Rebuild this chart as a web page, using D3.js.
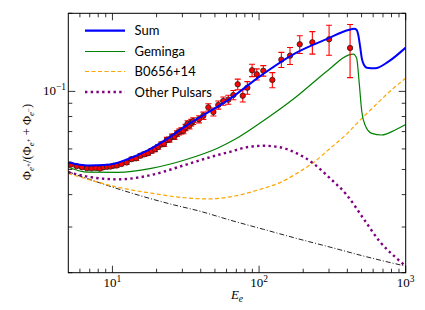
<!DOCTYPE html>
<html><head><meta charset="utf-8">
<script src="https://cdn.jsdelivr.net/npm/d3@7"></script>
<style>body{margin:0;background:#fff}svg{display:block}</style>
</head><body>
<svg id="c" width="425" height="310"></svg>
<script>
// ---- data ----
const sumCurve = [[5,0.0533],[6.8,0.0518],[9.3,0.0521],[12.8,0.0549],[17.5,0.0594],[23.9,0.0659],[32.7,0.0745],[43.7,0.0822],[61.7,0.0927],[104,0.1156],[176,0.1402],[297,0.1601],[406,0.1725],[446,0.1742],[463,0.1725],[475,0.165],[489,0.1486],[502,0.1341],[520,0.1264],[543,0.1234],[618,0.1227],[762,0.1302],[1000,0.1475]];
const gemingaCurve = [[5,0.051],[6.8,0.0488],[10.9,0.0487],[18.4,0.0505],[31.1,0.0544],[52.5,0.0605],[70,0.0658],[104,0.0762],[176,0.0945],[297,0.1209],[406,0.138],[440,0.1393],[463,0.1341],[481,0.109],[502,0.0835],[528,0.0742],[587,0.0689],[687,0.0679],[847,0.071],[1000,0.0745]];
const b0656Curve = [[5,0.0483],[6.8,0.0458],[10.9,0.0427],[18.4,0.0405],[31.1,0.0389],[44.9,0.0385],[68.2,0.0395],[107,0.0423],[139,0.0445],[181,0.0483],[234,0.0531],[305,0.0603],[396,0.0685],[500,0.0785],[600,0.0868],[800,0.1013],[1000,0.1124]];
const otherCurve = [[5,0.0488],[6.8,0.0469],[10.9,0.0458],[18.4,0.0476],[31.1,0.052],[52.5,0.0569],[63.4,0.0585],[82.4,0.0609],[107,0.0617],[139,0.0609],[181,0.0577],[234,0.0528],[305,0.0462],[396,0.0399],[514,0.0324],[668,0.0263],[869,0.0227],[1000,0.0212]];
const backgroundCurve = [[5,0.049],[8.4,0.0442],[14.2,0.0402],[23.9,0.037],[40.4,0.0344],[63.4,0.0319],[107,0.0294],[181,0.0271],[305,0.0251],[514,0.0232],[964,0.0213],[1000,0.0212]];

const dataE = [5.2,5.7,6.2,6.7,7.2,7.7,8.2,8.7,9.2,9.7,10.2,10.7,11.5,12.5,13.5,14.5,15.5,16.5,17.5,18.5,19.5,20.5,21.5,22.5,23.5,24.5,25.5,26.5,27.5,28.5,29.5,30.5,31.5,32.5,33.5,34.5,35.5,38.9,41.7,45.1,48.8,52.7,57.0,61.7,66.8,71.5,77.4,83.2,89.6,96.4,106.9,123.2,141.9,162.6,189.4,230.9,300.2,417.5];
const dataV = [0.0522,0.0515,0.0510,0.0506,0.0505,0.0507,0.0504,0.0510,0.0512,0.0513,0.0517,0.0518,0.0525,0.0532,0.0548,0.0552,0.0565,0.0572,0.0578,0.0590,0.0598,0.0611,0.0625,0.0628,0.0650,0.0652,0.0668,0.0670,0.0688,0.0698,0.0705,0.0706,0.0726,0.0750,0.0738,0.0758,0.0768,0.0781,0.0806,0.0868,0.0833,0.0886,0.0918,0.0929,0.0968,0.1065,0.0962,0.1033,0.1206,0.1164,0.1201,0.1107,0.1325,0.1373,0.1519,0.1546,0.1588,0.1470];
const dataErr = [0.0006,0.0006,0.0006,0.0006,0.0006,0.0006,0.0007,0.0007,0.0007,0.0007,0.0008,0.0008,0.0008,0.0009,0.0009,0.0010,0.0010,0.0011,0.0011,0.0012,0.0012,0.0013,0.0013,0.0014,0.0015,0.0015,0.0016,0.0017,0.0017,0.0018,0.0019,0.0019,0.0020,0.0021,0.0021,0.0022,0.0023,0.0025,0.0026,0.0028,0.0029,0.0032,0.0034,0.0037,0.0040,0.0050,0.0052,0.0058,0.0066,0.0057,0.0056,0.0074,0.0089,0.0103,0.0120,0.0154,0.0210,0.0340];

const xMajor = [10,100,1000];
const xMinor = [6,7,8,9,20,30,40,50,60,70,80,90,200,300,400,500,600,700,800,900];
const yMajor = [0.1];
const yMinor = [0.02,0.03,0.04,0.05,0.06,0.07,0.08,0.09,0.2];
const xTickExp = ["1","2","3"];
const yTickExp = ["\u22121"];
const legendLabels = ["Sum","Geminga","B0656+14","Other Pulsars"];

// ---- layout ----
const L=68.3,R=405.7,T=13.3,B=272.7;
const svg=d3.select("#c");
const x=d3.scaleLog().domain([5,1000]).range([L,R]);
const y=d3.scaleLog().domain([0.02,0.2]).range([B,T]);

const clip=svg.append("defs").append("clipPath").attr("id","pc");
clip.append("rect").attr("x",L).attr("y",T).attr("width",R-L).attr("height",B-T);
const g=svg.append("g").attr("clip-path","url(#pc)");

const line=d3.line().x(d=>x(d[0])).y(d=>y(d[1])).curve(d3.curveMonotoneX);

const styles=[
 {data:backgroundCurve,color:"#222",w:1,dash:"5,2,1,2",cap:"butt"},
 {data:b0656Curve,color:"#ffa500",w:1.2,dash:"4,2.5",cap:"butt"},
 {data:otherCurve,color:"#800080",w:2.4,dash:"2.4,3.3",cap:"butt"},
 {data:gemingaCurve,color:"#008000",w:1.2,dash:null,cap:"butt"},
];
styles.forEach(s=>{
 g.append("path").attr("d",line(s.data)).attr("fill","none").attr("stroke",s.color)
  .attr("stroke-width",s.w).attr("stroke-dasharray",s.dash).attr("stroke-linecap",s.cap);
});

// data points
const pts=dataE.map((e,i)=>({e,v:dataV[i],err:dataErr[i]}));
const eb=g.append("g").attr("stroke","red").attr("stroke-width",1.1);
pts.forEach(p=>{
 const cx=x(p.e),y1=y(p.v+p.err),y0=y(p.v-p.err);
 eb.append("line").attr("x1",cx).attr("x2",cx).attr("y1",y0).attr("y2",y1);
 eb.append("line").attr("x1",cx-3).attr("x2",cx+3).attr("y1",y0).attr("y2",y0);
 eb.append("line").attr("x1",cx-3).attr("x2",cx+3).attr("y1",y1).attr("y2",y1);
});
g.append("g").selectAll("circle").data(pts).join("circle")
 .attr("cx",d=>x(d.e)).attr("cy",d=>y(d.v)).attr("r",2.7)
 .attr("fill","red").attr("stroke","#222").attr("stroke-width",0.8);

// sum line on top
g.append("path").attr("d",line(sumCurve)).attr("fill","none").attr("stroke","#0000ff").attr("stroke-width",2);

// frame
svg.append("rect").attr("x",L).attr("y",T).attr("width",R-L).attr("height",B-T)
 .attr("fill","none").attr("stroke","#000").attr("stroke-width",1);

// ticks (inward, all sides)
const tk=svg.append("g").attr("stroke","#000").attr("stroke-width",0.8);
function xt(vals,len){vals.forEach(v=>{const px=x(v);
 tk.append("line").attr("x1",px).attr("x2",px).attr("y1",B).attr("y2",B-len);
 tk.append("line").attr("x1",px).attr("x2",px).attr("y1",T).attr("y2",T+len);});}
function yt(vals,len){vals.forEach(v=>{const py=y(v);
 tk.append("line").attr("x1",L).attr("x2",L+len).attr("y1",py).attr("y2",py);
 tk.append("line").attr("x1",R).attr("x2",R-len).attr("y1",py).attr("y2",py);});}
xt(xMajor,7);xt(xMinor,4);yt(yMajor,7);yt(yMinor,4);

const serif="'Liberation Serif','DejaVu Serif',serif";
function rich(sel,parts){
 let prev=0;
 parts.forEach(p=>{
  sel.append("tspan").text(p.t).attr("font-size",p.s).attr("dy",(p.sh||0)-prev)
   .attr("font-style",p.i?"italic":null);
  prev=p.sh||0;
 });
}
// x tick labels
xMajor.forEach((v,i)=>{
 const t=svg.append("text").attr("x",x(v)).attr("y",287).attr("text-anchor","middle")
  .attr("font-family",serif).attr("fill","#000");
 rich(t,[{t:"10",s:13},{t:xTickExp[i],s:9.5,sh:-5.5}]);
});
yMajor.forEach((v,i)=>{
 const t=svg.append("text").attr("x",66).attr("y",y(v)+4).attr("text-anchor","end")
  .attr("font-family",serif).attr("fill","#000");
 rich(t,[{t:"10",s:13},{t:yTickExp[i],s:9.5,sh:-5.5}]);
});
// axis labels
const xl=svg.append("text").attr("x",237).attr("y",299).attr("text-anchor","middle")
 .attr("font-family",serif).attr("fill","#000");
rich(xl,[{t:"E",s:13,i:true},{t:"e",s:9.5,sh:3,i:true}]);

const yl=svg.append("text").attr("transform","translate(31,142) rotate(-90)")
 .attr("text-anchor","middle").attr("font-family",serif).attr("fill","#000");
rich(yl,[
 {t:"\u03A6",s:12.5},{t:"e",s:9,sh:3,i:true},{t:"+",s:7,sh:0},
 {t:"/(\u03A6",s:12.5},{t:"e",s:9,sh:3,i:true},{t:"+",s:7,sh:0},
 {t:" + \u03A6",s:12.5},{t:"e",s:9,sh:3,i:true},{t:"\u2212",s:7,sh:0},
 {t:")",s:12.5}
]);

// legend
const lg=svg.append("g");
const lstyles=[
 {color:"#0000ff",w:2.2,dash:null},
 {color:"#008000",w:1,dash:null},
 {color:"#ffa500",w:1,dash:"4,2.5"},
 {color:"#800080",w:2.4,dash:"2.4,3.3"}
];
const rowY=[30.7,51.5,71.5,92];
legendLabels.forEach((lab,i)=>{
 const s=lstyles[i];
 lg.append("line").attr("x1",85).attr("x2",125).attr("y1",rowY[i]).attr("y2",rowY[i])
  .attr("stroke",s.color).attr("stroke-width",s.w).attr("stroke-dasharray",s.dash);
 lg.append("text").attr("x",134.5).attr("y",rowY[i]+4.5).text(lab)
  .attr("font-family","Lato,'Open Sans',sans-serif").attr("font-size",13).attr("fill","#000");
});
</script>
</body></html>
